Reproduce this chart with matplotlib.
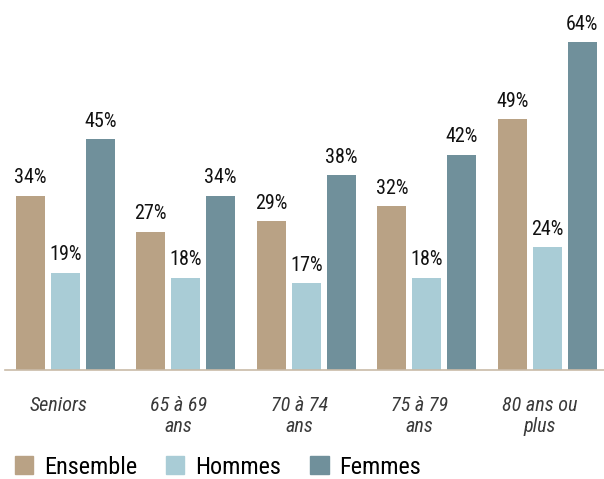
import numpy as np
import matplotlib.pyplot as plt
from matplotlib.patches import Patch

plt.rcParams['font.family'] = ['Roboto Condensed', 'DejaVu Sans']

categories = ["Seniors", "65 à 69\nans", "70 à 74\nans", "75 à 79\nans", "80 ans ou\nplus"]
series = ["Ensemble", "Hommes", "Femmes"]
ensemble = [34, 27, 29, 32, 49]
hommes = [19, 18, 17, 18, 24]
femmes = [45, 34, 38, 42, 64]
colors = ["#B9A285", "#A9CCD6", "#70909B"]

fig = plt.figure(figsize=(6.04, 4.79), dpi=100)
ax = fig.add_axes([5 / 604, 109 / 479, 1 - 5 / 604, 370 / 479])

x = np.arange(len(categories))
width = 0.24
step = 0.29
for i, (vals, col) in enumerate(zip([ensemble, hommes, femmes], colors)):
    bars = ax.bar(x + (i - 1) * step, vals, width, color=col)
    for b, v in zip(bars, vals):
        ax.annotate(f"{v}%", (b.get_x() + b.get_width() / 2, v),
                    xytext=(0, 6), textcoords="offset points",
                    ha="center", va="bottom", fontsize=14.5, color="#111111")

ax.set_xlim(-0.5, 4.47)
ax.set_ylim(0, 72.2)
ax.set_yticks([])
ax.set_xticks(x - 0.06)
ax.set_xticklabels(categories, fontsize=14.5, style="italic",
                   color="#3a3a3a", linespacing=1.1)
ax.tick_params(axis="x", length=0, pad=19)
for s in ["top", "right", "left"]:
    ax.spines[s].set_visible(False)
ax.spines["bottom"].set_color("#C9BBA8")
ax.spines["bottom"].set_linewidth(1.2)

handles = [Patch(color=c) for c in colors]
fig.legend(handles, series, loc="lower left", bbox_to_anchor=(-0.012, -0.045),
           ncol=3, frameon=False, handlelength=0.75,
           handleheight=0.75, columnspacing=1.2, handletextpad=0.45,
           prop={'size': 17.5})

fig.savefig("out.png", dpi=100)
